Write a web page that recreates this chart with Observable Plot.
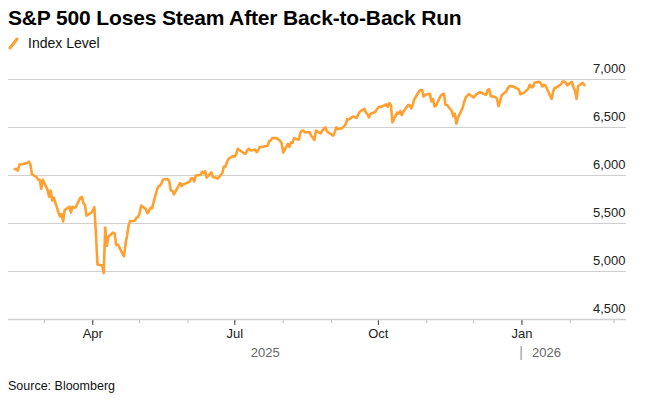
<!DOCTYPE html>
<html><head><meta charset="utf-8">
<script src="https://cdn.jsdelivr.net/npm/d3@7"></script>
<script src="https://cdn.jsdelivr.net/npm/@observablehq/plot@0.6"></script>
<style>
body{margin:0;background:#fff;font-family:"Liberation Sans",Arial,sans-serif;color:#000}
#wrap{width:671px;height:406px;position:relative;overflow:hidden}
#title{position:absolute;left:8px;top:6px;margin:0;font-size:21px;font-weight:bold;letter-spacing:-0.15px;white-space:nowrap}
#legend{position:absolute;left:8px;top:35px;font-size:14px;display:flex;align-items:center;color:#111}
#legend svg{margin-right:9px}
#chart{position:absolute;left:0;top:56px}
#source{position:absolute;left:8px;top:379px;font-size:12.5px;color:#111}
</style></head>
<body><div id="wrap">
<div id="title">S&amp;P 500 Loses Steam After Back-to-Back Run</div>
<div id="legend"><svg width="11" height="13"><line x1="2" y1="11" x2="9" y2="2" stroke="#ffa031" stroke-width="3" stroke-linecap="round"/></svg><span>Index Level</span></div>
<div id="chart"></div>
<div id="source">Source: Bloomberg</div>
</div>
<script>
const seriesName = "Index Level";
const dates = [
"2025-02-10","2025-02-11","2025-02-12","2025-02-13","2025-02-14","2025-02-18","2025-02-19","2025-02-20","2025-02-21","2025-02-24","2025-02-25","2025-02-26","2025-02-27","2025-02-28",
"2025-03-03","2025-03-04","2025-03-05","2025-03-06","2025-03-07","2025-03-10","2025-03-11","2025-03-12","2025-03-13","2025-03-14","2025-03-17","2025-03-18","2025-03-19","2025-03-20","2025-03-21","2025-03-24","2025-03-25","2025-03-26","2025-03-27","2025-03-28","2025-03-31",
"2025-04-01","2025-04-02","2025-04-03","2025-04-04","2025-04-07","2025-04-08","2025-04-09","2025-04-10","2025-04-11","2025-04-14","2025-04-15","2025-04-16","2025-04-17","2025-04-21","2025-04-22","2025-04-23","2025-04-24","2025-04-25","2025-04-28","2025-04-29","2025-04-30",
"2025-05-01","2025-05-02","2025-05-05","2025-05-06","2025-05-07","2025-05-08","2025-05-09","2025-05-12","2025-05-13","2025-05-14","2025-05-15","2025-05-16","2025-05-19","2025-05-20","2025-05-21","2025-05-22","2025-05-23","2025-05-27","2025-05-28","2025-05-29","2025-05-30",
"2025-06-02","2025-06-03","2025-06-04","2025-06-05","2025-06-06","2025-06-09","2025-06-10","2025-06-11","2025-06-12","2025-06-13","2025-06-16","2025-06-17","2025-06-18","2025-06-20","2025-06-23","2025-06-24","2025-06-25","2025-06-26","2025-06-27","2025-06-30",
"2025-07-01","2025-07-02","2025-07-03","2025-07-07","2025-07-08","2025-07-09","2025-07-10","2025-07-11","2025-07-14","2025-07-15","2025-07-16","2025-07-17","2025-07-18","2025-07-21","2025-07-22","2025-07-23","2025-07-24","2025-07-25","2025-07-28","2025-07-29","2025-07-30","2025-07-31",
"2025-08-01","2025-08-04","2025-08-05","2025-08-06","2025-08-07","2025-08-08","2025-08-11","2025-08-12","2025-08-13","2025-08-14","2025-08-15","2025-08-18","2025-08-19","2025-08-20","2025-08-21","2025-08-22","2025-08-25","2025-08-26","2025-08-27","2025-08-28","2025-08-29",
"2025-09-02","2025-09-03","2025-09-04","2025-09-05","2025-09-08","2025-09-09","2025-09-10","2025-09-11","2025-09-12","2025-09-15","2025-09-16","2025-09-17","2025-09-18","2025-09-19","2025-09-22","2025-09-23","2025-09-24","2025-09-25","2025-09-26","2025-09-29","2025-09-30",
"2025-10-01","2025-10-02","2025-10-03","2025-10-06","2025-10-07","2025-10-08","2025-10-09","2025-10-10","2025-10-13","2025-10-14","2025-10-15","2025-10-16","2025-10-17","2025-10-20","2025-10-21","2025-10-22","2025-10-23","2025-10-24","2025-10-27","2025-10-28","2025-10-29","2025-10-30","2025-10-31",
"2025-11-03","2025-11-04","2025-11-05","2025-11-06","2025-11-07","2025-11-10","2025-11-11","2025-11-12","2025-11-13","2025-11-14","2025-11-17","2025-11-18","2025-11-19","2025-11-20","2025-11-21","2025-11-24","2025-11-25","2025-11-26","2025-11-28",
"2025-12-01","2025-12-02","2025-12-03","2025-12-04","2025-12-05","2025-12-08","2025-12-09","2025-12-10","2025-12-11","2025-12-12","2025-12-15","2025-12-16","2025-12-17","2025-12-18","2025-12-19","2025-12-22","2025-12-23","2025-12-24","2025-12-26","2025-12-29","2025-12-30","2025-12-31",
"2026-01-02","2026-01-05","2026-01-06","2026-01-07","2026-01-08","2026-01-09","2026-01-12","2026-01-13","2026-01-14","2026-01-15","2026-01-16","2026-01-20","2026-01-21","2026-01-22","2026-01-23","2026-01-26","2026-01-27","2026-01-28","2026-01-29","2026-01-30",
"2026-02-02","2026-02-03","2026-02-04","2026-02-05","2026-02-06","2026-02-09","2026-02-10"
];
const values = [
6066,6069,6052,6115,6115,6130,6144,6118,6013,5983,5955,5956,5862,5955,
5850,5778,5843,5739,5770,5615,5572,5599,5522,5639,5675,5615,5675,5663,5668,5768,5777,5712,5693,5581,5612,
5633,5671,5397,5074,5062,4983,5457,5268,5363,5406,5397,5276,5283,5158,5288,5376,5485,5525,5529,5561,5569,
5604,5687,5650,5607,5631,5664,5660,5844,5887,5893,5917,5958,5964,5940,5845,5842,5803,5922,5889,5912,5912,
5936,5970,5971,5939,6000,6006,6039,6022,6045,5977,6033,5983,5981,5968,6025,6092,6092,6141,6173,6205,
6198,6227,6279,6230,6226,6263,6280,6260,6269,6244,6264,6297,6297,6306,6310,6359,6363,6389,6390,6371,6363,6339,
6238,6330,6299,6345,6340,6389,6373,6446,6467,6469,6450,6449,6411,6396,6370,6467,6439,6466,6481,6502,6460,
6416,6448,6502,6482,6495,6513,6532,6587,6584,6615,6607,6600,6632,6664,6694,6657,6638,6605,6644,6661,6688,
6711,6715,6716,6740,6715,6754,6735,6553,6655,6644,6671,6629,6664,6735,6735,6699,6738,6792,6875,6891,6891,6822,6840,
6852,6772,6796,6720,6729,6832,6847,6851,6737,6734,6672,6617,6642,6539,6603,6705,6766,6813,6849,
6813,6829,6850,6857,6870,6847,6841,6887,6901,6827,6817,6800,6721,6775,6835,6878,6910,6932,6930,6906,6896,6846,
6858,6902,6945,6921,6921,6966,6977,6964,6927,6944,6940,6797,6876,6913,6916,6950,6979,6978,6969,6939,
6976,6918,6883,6798,6932,6965,6942
];
const yTicks = [4500, 5000, 5500, 6000, 6500, 7000];
const xDomain = ["2025-02-06", "2026-03-09"];
const yearLabels = ["2025", "2026"];

const parse = d3.utcParse("%Y-%m-%d");
const data = dates.map((d, i) => ({date: parse(d), value: values[i]}));
const x0 = parse(xDomain[0]), x1 = parse(xDomain[1]);
const jan26 = parse("2026-01-01");
const yearRows = [
  {date: new Date((x0.getTime() + jan26.getTime()) / 2), label: yearLabels[0]},
  {date: jan26, label: yearLabels[1]}
];
const orange = "#ffa031";
const fontFam = "Liberation Sans, Arial, sans-serif";

const chart = Plot.plot({
  width: 671,
  height: 310,
  marginLeft: 8,
  marginRight: 45,
  marginTop: 23,
  marginBottom: 47,
  style: {fontFamily: fontFam, fontSize: "13px", color: "#222", background: "#fff", overflow: "visible"},
  x: {type: "utc", domain: [x0, x1], label: null},
  y: {domain: [4500, 7000], label: null},
  marks: [
    Plot.gridY(yTicks.slice(1), {stroke: "#cfcfcf", strokeOpacity: 1, strokeWidth: 1}),
    Plot.axisY(yTicks, {anchor: "right", tickSize: 0, tickPadding: -1, textAnchor: "end", dy: -11, tickFormat: d3.format(","), fill: "#222", fontSize: 13, label: null}),
    Plot.axisX({ticks: d3.utcMonth.every(1), tickSize: 4, stroke: "#bbb", text: null, label: null}),
    Plot.axisX({ticks: d3.utcMonth.every(3), tickSize: 6, stroke: "#444", tickFormat: d3.utcFormat("%b"), tickPadding: 3, fill: "#222", fontSize: 13, label: null}),
    Plot.ruleY([yTicks[0]], {stroke: "#cfcfcf", strokeWidth: 1.5}),
    Plot.line(data, {x: "date", y: "value", stroke: orange, strokeWidth: 2.6, strokeLinejoin: "round", strokeLinecap: "round"}),
    Plot.text(yearRows.slice(0, 1), {x: "date", text: "label", frameAnchor: "bottom", dy: 33, fill: "#666", fontSize: 13, textAnchor: "middle", lineAnchor: "middle", style: "letter-spacing:1px"}),
    Plot.text(yearRows.slice(1), {x: "date", text: () => "|", frameAnchor: "bottom", dy: 33, dx: -1, fill: "#999", fontSize: 14, textAnchor: "middle", lineAnchor: "middle"}),
    Plot.text(yearRows.slice(1), {x: "date", text: "label", frameAnchor: "bottom", dy: 33, dx: 10, fill: "#666", fontSize: 13, textAnchor: "start", lineAnchor: "middle", style: "letter-spacing:1px"})
  ]
});
document.getElementById("chart").appendChild(chart);
</script>
</body></html>
